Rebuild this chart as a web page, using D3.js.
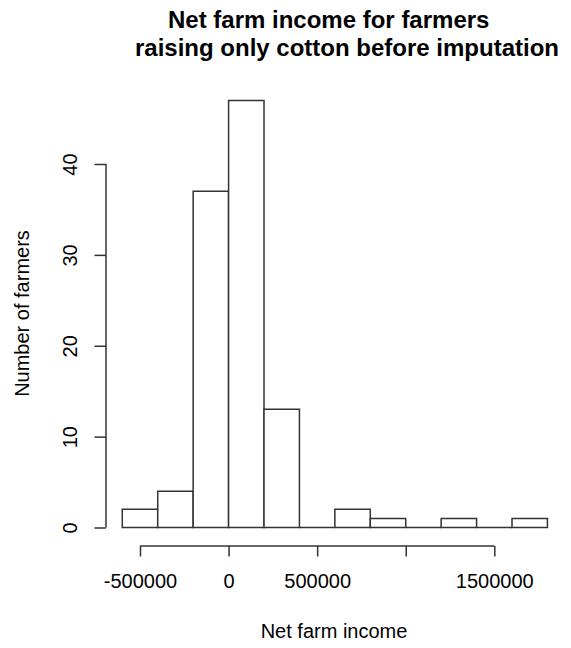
<!DOCTYPE html>
<html>
<head>
<meta charset="utf-8">
<script src="https://cdn.jsdelivr.net/npm/d3@7"></script>
<style>
  body { margin: 0; background: #fff; }
  svg { display: block; }
  text { font-family: "Liberation Sans", Arial, sans-serif; fill: #000; }
</style>
</head>
<body>
<svg id="chart" width="571" height="648"></svg>
<script>
// Histogram bins (lower edges) and counts
const binStarts = [-600000, -400000, -200000, 0, 200000, 400000, 600000, 800000, 1000000, 1200000, 1400000, 1600000];
const binWidth = 200000;
const counts = [2, 4, 37, 47, 13, 0, 2, 1, 0, 1, 0, 1];
const xTickValues = [-500000, 0, 500000, 1000000, 1500000];
const xTickLabels = ["-500000", "0", "500000", "", "1500000"];
const yTickValues = [0, 10, 20, 30, 40];
const yTickLabels = ["0", "10", "20", "30", "40"];
const titleLines = ["Net farm income for farmers", "raising only cotton before imputation"];
const xTitle = "Net farm income";
const yTitle = "Number of farmers";

const svg = d3.select("#chart");
const lineColor = "#333";

// scales (pixel anchors)
const x = d3.scaleLinear().domain([-500000, 1500000]).range([140, 494.3]);
const y = d3.scaleLinear().domain([0, 40]).range([527.5, 164]);

// bars (drawn as closed paths so zero-count bins still show as a baseline)
const bins = binStarts.map((s, i) => ({ x0: s, x1: s + binWidth, n: counts[i] }));
svg.append("g").selectAll("path").data(bins).join("path")
  .attr("d", d => {
    const p = d3.path();
    p.moveTo(x(d.x0), y(0));
    p.lineTo(x(d.x0), y(d.n));
    p.lineTo(x(d.x1), y(d.n));
    p.lineTo(x(d.x1), y(0));
    p.closePath();
    return p.toString();
  })
  .attr("fill", "#fff")
  .attr("stroke", lineColor)
  .attr("stroke-width", 1.5);

// x axis
const xAxisG = svg.append("g").attr("transform", "translate(0,546)")
  .call(d3.axisBottom(x).tickValues(xTickValues).tickSize(10.5).tickSizeOuter(0)
    .tickFormat((d, i) => xTickLabels[i]));
xAxisG.select(".domain").remove();
xAxisG.append("line")
  .attr("x1", x(xTickValues[0])).attr("x2", x(xTickValues[xTickValues.length - 1]))
  .attr("y1", 0).attr("y2", 0)
  .attr("stroke", lineColor).attr("stroke-width", 1.5);
xAxisG.selectAll(".tick line").attr("stroke", lineColor).attr("stroke-width", 1.5);
xAxisG.selectAll(".tick text")
  .attr("y", 42).attr("dy", null)
  .style("font-family", "'Liberation Sans', Arial, sans-serif")
  .style("font-size", "20px").attr("fill", "#000");

// y axis
const yAxisG = svg.append("g").attr("transform", "translate(106,0)")
  .call(d3.axisLeft(y).tickValues(yTickValues).tickSize(11.5).tickSizeOuter(0)
    .tickFormat((d, i) => yTickLabels[i]));
yAxisG.select(".domain").remove();
yAxisG.append("line")
  .attr("x1", 0).attr("x2", 0)
  .attr("y1", y(yTickValues[0])).attr("y2", y(yTickValues[yTickValues.length - 1]))
  .attr("stroke", lineColor).attr("stroke-width", 1.5);
yAxisG.selectAll(".tick line").attr("stroke", lineColor).attr("stroke-width", 1.5);
yAxisG.selectAll(".tick text")
  .attr("x", null).attr("dy", null)
  .attr("transform", "translate(-29,0) rotate(-90)")
  .attr("text-anchor", "middle")
  .style("font-family", "'Liberation Sans', Arial, sans-serif")
  .style("font-size", "20px").attr("fill", "#000");

// titles
const title = svg.append("g");
title.append("text").attr("x", 168).attr("y", 28)
  .style("font-size", "24px").style("font-weight", "bold").text(titleLines[0]);
title.append("text").attr("x", 135).attr("y", 55.5)
  .style("font-size", "24px").style("font-weight", "bold").text(titleLines[1]);

svg.append("text").attr("x", 334).attr("y", 638).attr("text-anchor", "middle")
  .style("font-size", "20px").text(xTitle);

svg.append("text").attr("transform", "translate(29,313.5) rotate(-90)")
  .attr("text-anchor", "middle").style("font-size", "20px").text(yTitle);
</script>
</body>
</html>
